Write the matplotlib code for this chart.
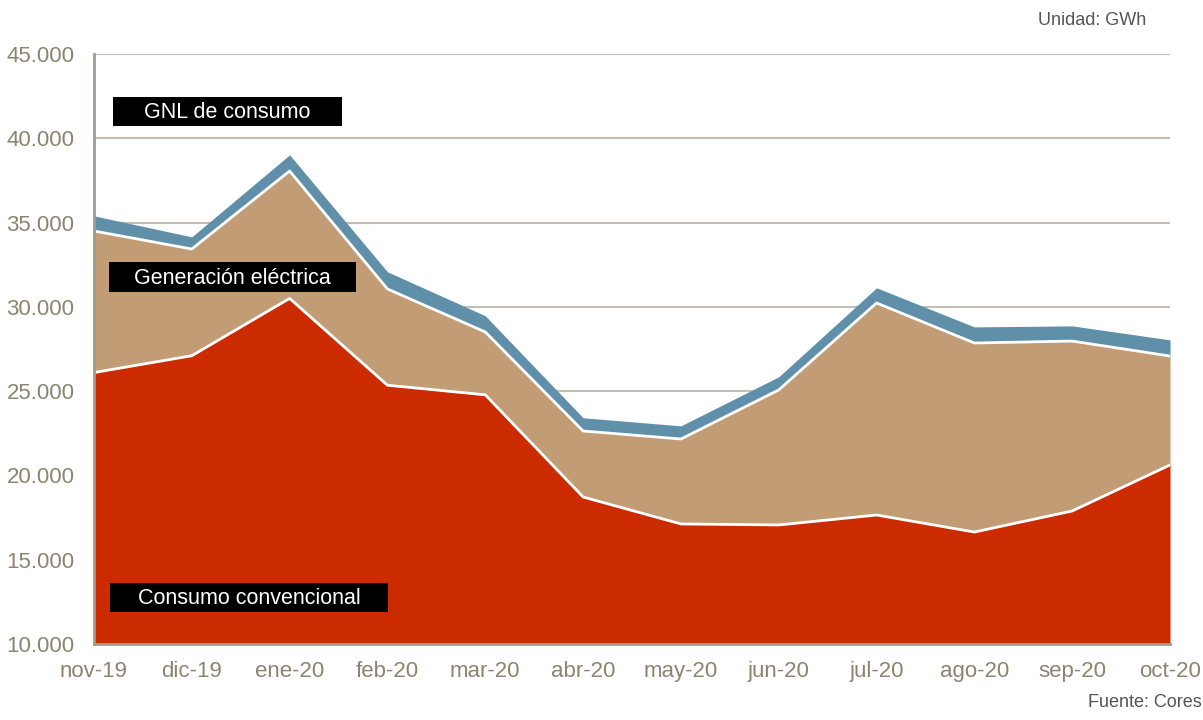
import matplotlib.pyplot as plt
from matplotlib.patches import Rectangle
from matplotlib.ticker import FuncFormatter

plt.rcParams['font.family'] = ['Liberation Sans', 'DejaVu Sans']

# Demanda de gas natural por mes (GWh)
meses = ['nov-19', 'dic-19', 'ene-20', 'feb-20', 'mar-20', 'abr-20',
         'may-20', 'jun-20', 'jul-20', 'ago-20', 'sep-20', 'oct-20']
convencional = [26100, 27100, 30500, 25350, 24780, 18720,
                17120, 17060, 17650, 16640, 17890, 20620]
generacion = [8400, 6330, 7560, 5710, 3730, 3915,
              5040, 8010, 12580, 11215, 10080, 6460]
gnl = [900, 720, 960, 1020, 960, 785, 780, 780, 900, 955, 900, 960]

c_conv = '#CC2B00'
c_gen = '#C19C75'
c_gnl = '#5F8FA9'
c_txt = '#8C8470'
c_grid = '#C4BDB0'

fig = plt.figure(figsize=(12.03, 7.2), dpi=100)
ax = fig.add_axes([0.0781, 0.1056, 0.8945, 0.8194])

x = list(range(len(meses)))
nivel1 = convencional
nivel2 = [a + b for a, b in zip(nivel1, generacion)]
nivel3 = [a + b for a, b in zip(nivel2, gnl)]

ax.fill_between(x, 0, nivel1, color=c_conv, lw=0, zorder=2)
ax.fill_between(x, nivel1, nivel2, color=c_gen, lw=0, zorder=2)
ax.fill_between(x, nivel2, nivel3, color=c_gnl, lw=0, zorder=2)
ax.plot(x, nivel1, color='white', lw=2, zorder=3)
ax.plot(x, nivel2, color='white', lw=2, zorder=3)

ax.set_xlim(0, len(meses) - 1)
ax.set_ylim(10000, 45000)
ax.set_yticks(range(10000, 45001, 5000))
ax.yaxis.set_major_formatter(FuncFormatter(lambda v, p: f'{int(v):,}'.replace(',', '.')))
ax.set_xticks(x)
ax.set_xticklabels(meses)
ax.tick_params(axis='both', length=0, labelsize=16, colors=c_txt)
ax.tick_params(axis='x', pad=12)
ax.tick_params(axis='y', pad=14)

ax.grid(axis='y', color=c_grid, lw=1.5, zorder=1)
for s in ['top', 'right']:
    ax.spines[s].set_visible(False)
for s in ['left', 'bottom']:
    ax.spines[s].set_color('#A39C8C')
    ax.spines[s].set_linewidth(2)
    ax.spines[s].set_zorder(4)

# etiquetas de las series
etiquetas = [
    ('GNL de consumo', 0.0177, 0.878, 0.2128, 0.049),
    ('Generación eléctrica', 0.0139, 0.597, 0.2296, 0.050),
    ('Consumo convencional', 0.0149, 0.054, 0.2583, 0.049),
]
for txt, x0, y0, w, h in etiquetas:
    ax.add_patch(Rectangle((x0, y0), w, h, transform=ax.transAxes,
                           facecolor='black', edgecolor='none', zorder=5))
    ax.text(x0 + w / 2, y0 + h / 2 - 0.002, txt, transform=ax.transAxes,
            ha='center', va='center', color='white', fontsize=15.5, zorder=6)

fig.text(0.953, 0.972, 'Unidad: GWh', ha='right', va='center', fontsize=13, color='#555555')
fig.text(0.999, 0.012, 'Fuente: Cores', ha='right', va='bottom', fontsize=13, color='#555555')

plt.savefig('out.png', dpi=100)
